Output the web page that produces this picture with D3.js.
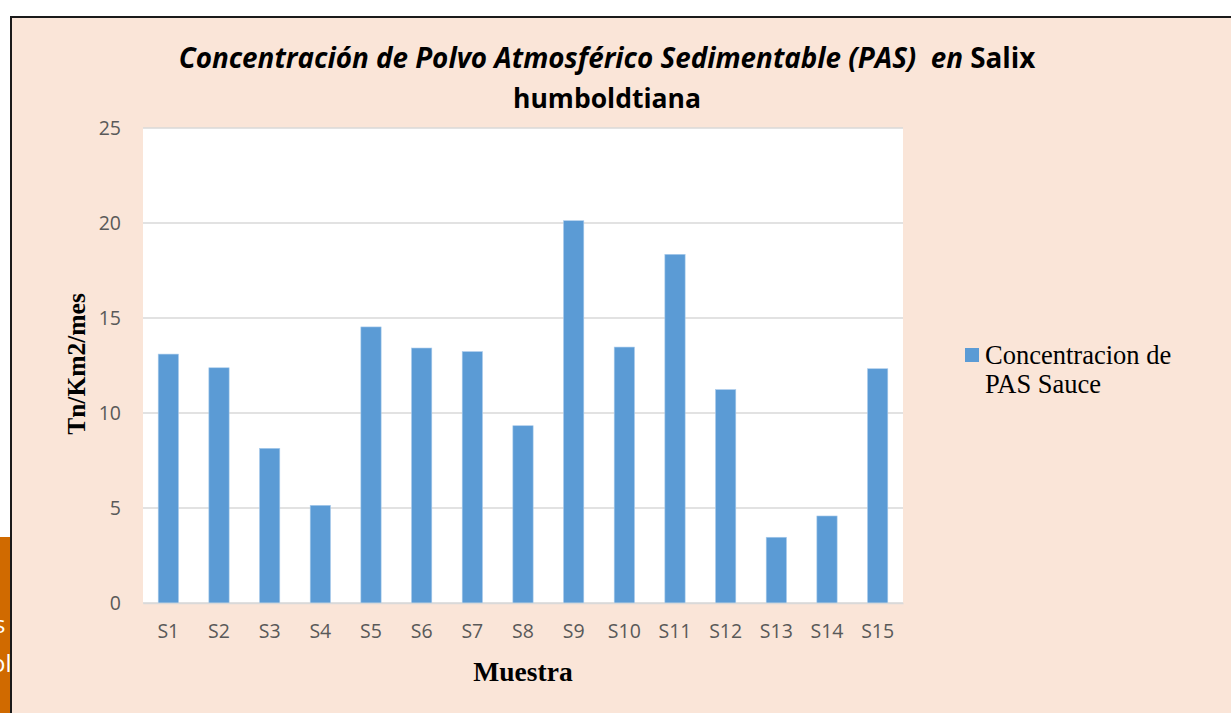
<!DOCTYPE html>
<html>
<head>
<meta charset="utf-8">
<script src="https://cdn.jsdelivr.net/npm/d3@7"></script>
<style>
  body { margin: 0; background: #fff; }
  svg { display: block; }
</style>
</head>
<body>
<div id="chart"></div>
<script>
const muestras = ['S1', 'S2', 'S3', 'S4', 'S5', 'S6', 'S7', 'S8', 'S9', 'S10', 'S11', 'S12', 'S13', 'S14', 'S15']
const concentracion = [13.1, 12.38, 8.14, 5.14, 14.53, 13.42, 13.23, 9.33, 20.12, 13.47, 18.35, 11.23, 3.46, 4.58, 12.33]
const yTicks = [0, 5, 10, 15, 20, 25]
const serieNombre = ['Concentracion de', 'PAS Sauce']

const width = 1231
const height = 713

const svg = d3.select('#chart')
    .append('svg')
    .attr('width', width)
    .attr('height', height)

// trozo naranja de la diapositiva de fondo
svg.append('rect')
    .attr('x', 0).attr('y', 537)
    .attr('width', 11).attr('height', height - 537)
    .attr('fill', '#D06A00')
svg.append('clipPath').attr('id', 'strip')
    .append('rect').attr('x', 0).attr('y', 537).attr('width', 10).attr('height', 180)
const stripText = svg.append('g').attr('clip-path', 'url(#strip)')
    .style('font-family', '"Open Sans", sans-serif')
    .style('font-size', '24px')
    .attr('fill', '#fff')
stripText.append('text').attr('x', -6).attr('y', 633).text('s')
stripText.append('text').attr('x', -9).attr('y', 672).text('ol')

// marco del grafico
svg.append('rect')
    .attr('x', 11).attr('y', 17)
    .attr('width', width).attr('height', height)
    .attr('fill', '#FAE5D8')
    .attr('stroke', '#1a1a1a')
    .attr('stroke-width', 2)

const margin = { left: 143, right: 328, top: 128, bottom: 110 }

const x = d3.scaleBand()
    .domain(muestras)
    .range([margin.left, width - margin.right])
    .paddingInner(0.6)
    .paddingOuter(0.3)

const y = d3.scaleLinear()
    .domain([0, 25])
    .range([height - margin.bottom, margin.top])

const ctr = svg.append('g')

ctr.append('rect')
    .attr('x', margin.left)
    .attr('y', margin.top)
    .attr('width', width - margin.right - margin.left)
    .attr('height', y(0) - margin.top)
    .attr('fill', '#fff')

// lineas de cuadricula
ctr.append('g')
    .selectAll('line')
    .data(yTicks)
    .join('line')
    .attr('x1', margin.left)
    .attr('x2', width - margin.right)
    .attr('y1', (d) => y(d))
    .attr('y2', (d) => y(d))
    .attr('stroke', '#D9D9D9')
    .attr('stroke-width', 1.5)

// barras
ctr.append('g')
    .selectAll('rect')
    .data(concentracion)
    .join('rect')
    .attr('x', (d, i) => x(muestras[i]))
    .attr('y', (d) => y(d))
    .attr('width', x.bandwidth())
    .attr('height', (d) => y(0) - y(d))
    .attr('fill', '#5B9BD5')
    .attr('stroke', '#A9CBEB')
    .attr('stroke-width', 0.6)

// eje x
const xAxis = ctr.append('g')
    .attr('transform', `translate(0, ${y(0)})`)
    .call(d3.axisBottom(x).tickSize(0).tickPadding(21))
xAxis.select('.domain').attr('stroke', '#D9D9D9').attr('stroke-width', 1.5)
xAxis.selectAll('text')
    .style('font-family', '"Open Sans", sans-serif')
    .style('font-size', '19.5px')
    .attr('fill', '#595959')

// eje y
const yAxis = ctr.append('g')
    .attr('transform', `translate(${margin.left}, 0)`)
    .call(d3.axisLeft(y).tickValues(yTicks).tickSize(0).tickPadding(22))
yAxis.select('.domain').remove()
yAxis.selectAll('text')
    .style('font-family', '"Open Sans", sans-serif')
    .style('font-size', '19.5px')
    .attr('fill', '#595959')

// titulo
const title = svg.append('text')
    .attr('x', 607)
    .attr('y', 68)
    .attr('text-anchor', 'middle')
    .style('font-family', '"Open Sans", sans-serif')
    .style('font-size', '27.8px')
    .style('font-weight', 'bold')
    .attr('fill', '#000')
title.append('tspan')
    .style('font-style', 'italic')
    .text('Concentración de Polvo Atmosférico Sedimentable (PAS)\u00a0 en ')
title.append('tspan').text('Salix')
svg.append('text')
    .attr('x', 607)
    .attr('y', 108)
    .attr('text-anchor', 'middle')
    .style('font-family', '"Open Sans", sans-serif')
    .style('font-size', '26.5px')
    .style('font-weight', 'bold')
    .text('humboldtiana')

// titulos de ejes
svg.append('text')
    .attr('transform', 'translate(85, 364) rotate(-90)')
    .attr('text-anchor', 'middle')
    .style('font-family', '"Liberation Serif", serif')
    .style('font-size', '25.5px')
    .style('font-weight', 'bold')
    .text('Tn/Km2/mes')
svg.append('text')
    .attr('x', 523)
    .attr('y', 681)
    .attr('text-anchor', 'middle')
    .style('font-family', '"Liberation Serif", serif')
    .style('font-size', '27.5px')
    .style('font-weight', 'bold')
    .text('Muestra')

// leyenda
const legend = svg.append('g')
legend.append('rect')
    .attr('x', 965).attr('y', 348)
    .attr('width', 14).attr('height', 14)
    .attr('fill', '#5B9BD5')
legend.selectAll('text')
    .data(serieNombre)
    .join('text')
    .attr('x', 985)
    .attr('y', (d, i) => 364 + i * 29)
    .style('font-family', '"Liberation Serif", serif')
    .style('font-size', '26.5px')
    .attr('fill', '#000')
    .text((d) => d)
</script>
</body>
</html>
